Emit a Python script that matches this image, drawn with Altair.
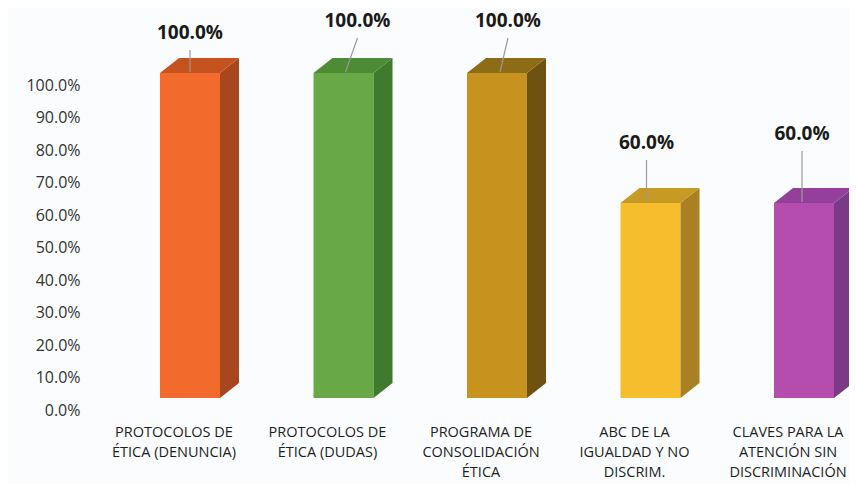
import altair as alt
import pandas as pd

# ---- data ----
categories = [
    "PROTOCOLOS DE\nÉTICA (DENUNCIA)",
    "PROTOCOLOS DE\nÉTICA (DUDAS)",
    "PROGRAMA DE\nCONSOLIDACIÓN\nÉTICA",
    "ABC DE LA\nIGUALDAD Y NO\nDISCRIM.",
    "CLAVES PARA LA\nATENCIÓN SIN\nDISCRIMINACIÓN",
]
values = [1.0, 1.0, 1.0, 0.6, 0.6]
value_labels = ["100.0%", "100.0%", "100.0%", "60.0%", "60.0%"]
y_ticks = [0.0, 0.1, 0.2, 0.3, 0.4, 0.5, 0.6, 0.7, 0.8, 0.9, 1.0]

# ---- styles ----
front_colors = ["#F26A2C", "#69A847", "#C8921F", "#F6BD2C", "#B44DAE"]
side_colors = ["#A8471E", "#3F7B2C", "#6F5212", "#A98022", "#7A3A88"]
top_colors = ["#C5531F", "#4E8B35", "#8E6C17", "#C79A23", "#953F9C"]
label_dx = [0, 14, 11, -4, -2]       # px, label/leader top shift from bar centre
line_dx0 = [0, 2, 3, -4, -2]         # px, leader bottom shift
label_rise = [23, 35, 35, 43, 52]    # px, leader top above bar front top

W, H = 754, 325
PXU = 153.5                          # px per category step
X0 = -95 / PXU
X1 = X0 + W / PXU
HALF = 30 / PXU
DX = 19 / PXU
DY = 15 / H
FONT = "Open Sans"

def px_x(p):
    return p / PXU

def px_y(p):
    return p / H

front, faces, leaders, cats = [], [], [], []
for i, v in enumerate(values):
    xl, xr = i - HALF, i + HALF
    front.append({"xl": xl, "xr": xr, "y0": 0.0, "y1": v, "c": front_colors[i]})
    faces.append({"g": f"s{i}", "x": xr, "lo": 0.0, "hi": v, "c": side_colors[i]})
    faces.append({"g": f"s{i}", "x": xr + DX, "lo": DY, "hi": v + DY, "c": side_colors[i]})
    faces.append({"g": f"t{i}", "x": xl, "lo": v, "hi": v, "c": top_colors[i]})
    faces.append({"g": f"t{i}", "x": xl + DX, "lo": v, "hi": v + DY, "c": top_colors[i]})
    faces.append({"g": f"t{i}", "x": xr, "lo": v, "hi": v + DY, "c": top_colors[i]})
    faces.append({"g": f"t{i}", "x": xr + DX, "lo": v + DY, "hi": v + DY, "c": top_colors[i]})
    leaders.append({
        "x0": i + px_x(line_dx0[i]), "y0": v + px_y(1),
        "x1": i + px_x(label_dx[i]), "y1": v + px_y(label_rise[i]),
        "lab": value_labels[i],
    })
    cats.append({"x": i - px_x(16), "cat": categories[i]})

front_df = pd.DataFrame(front)
faces_df = pd.DataFrame(faces)
lead_df = pd.DataFrame(leaders)
cat_df = pd.DataFrame(cats)

xs = alt.Scale(domain=[X0, X1], nice=False, zero=False)
ys = alt.Scale(domain=[0, 1], nice=False, zero=False)

yaxis = alt.Axis(
    values=y_ticks, format=".1%", grid=False, domain=False, ticks=False,
    labelPadding=15, labelOffset=12, labelFontSize=16, labelFont=FONT,
    labelColor="#333333", title=None,
)

front_layer = alt.Chart(front_df).mark_rect(clip=False).encode(
    x=alt.X("xl:Q", scale=xs, axis=None),
    x2="xr:Q",
    y=alt.Y("y0:Q", scale=ys, axis=yaxis),
    y2="y1:Q",
    fill=alt.Fill("c:N", scale=None),
)

face_layer = alt.Chart(faces_df).mark_area(clip=False, interpolate="linear").encode(
    x=alt.X("x:Q", scale=xs, axis=None),
    y=alt.Y("lo:Q", scale=ys, axis=yaxis),
    y2="hi:Q",
    detail="g:N",
    fill=alt.Fill("c:N", scale=None),
)

lead_layer = alt.Chart(lead_df).mark_rule(clip=False, color="#9a9a9a", strokeWidth=1.2).encode(
    x=alt.X("x0:Q", scale=xs, axis=None),
    y=alt.Y("y0:Q", scale=ys, axis=yaxis),
    x2="x1:Q",
    y2="y1:Q",
)

val_layer = alt.Chart(lead_df).mark_text(
    clip=False, font=FONT, fontSize=19, fontWeight="bold", color="#1a1a1a",
    baseline="middle", align="center", dy=-17,
).encode(
    x=alt.X("x1:Q", scale=xs, axis=None),
    y=alt.Y("y1:Q", scale=ys, axis=yaxis),
    text="lab:N",
)

cat_layer = alt.Chart(cat_df).mark_text(
    clip=False, font=FONT, fontSize=14.5, color="#1e1e1e", baseline="top",
    align="center", lineBreak="\n", lineHeight=20,
).encode(
    x=alt.X("x:Q", scale=xs, axis=None),
    y=alt.value(H + 28),
    text="cat:N",
)

chart = alt.layer(front_layer, face_layer, lead_layer, val_layer, cat_layer).properties(
    width=W, height=H,
    autosize=alt.AutoSizeParams(type="none"),
    padding={"left": 87, "top": 65, "right": 0, "bottom": 86},
    background="#FAFCFD",
).configure_view(stroke=None)

chart.save("out.html", embed_options={"renderer": "svg", "actions": False})
